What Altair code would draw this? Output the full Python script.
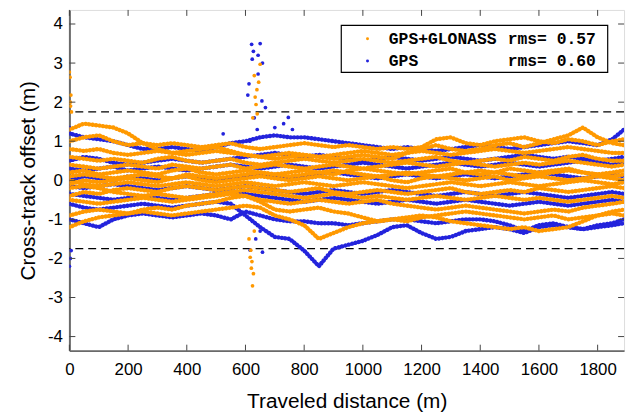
import altair as alt
import pandas as pd

# ---------------- data ----------------
DIST = [0, 50, 100, 150, 200, 250, 300, 350, 400, 450, 500, 550, 600, 650, 700,
        750, 800, 850, 900, 950, 1000, 1050, 1100, 1150, 1200, 1250, 1300, 1350,
        1400, 1450, 1500, 1550, 1600, 1650, 1700, 1750, 1800, 1850, 1890]

# GPS+GLONASS cross-track offsets (m), one list per pass
GLO_TRACKS = [
    [1.3, 1.45, 1.4, 1.35, 1.2, 0.95, 0.8, 0.7, 0.75, 0.8, 0.85, 0.75, 0.65, 0.6, 0.55, 0.6, 0.65, 0.6, 0.55, 0.6,
     0.65, 0.6, 0.55, 0.7, 0.8, 0.9, 0.8, 0.75, 0.8, 0.9, 0.95, 0.85, 0.95, 1.05, 1.15, 1.35, 1.1, 0.95, 0.9],
    [1.0, 1.1, 1.15, 1.0, 0.9, 0.95, 0.9, 0.95, 0.9, 0.85, 0.9, 0.95, 0.85, 0.8, 0.85, 0.9, 0.95, 0.9, 0.85, 0.9,
     0.85, 0.8, 0.85, 0.8, 0.85, 1.05, 1.1, 0.95, 0.9, 1.0, 1.05, 1.1, 1.0, 0.95, 1.05, 1.0, 0.9, 1.0, 1.05],
    [0.8, 0.75, 0.8, 0.7, 0.65, 0.7, 0.75, 0.7, 0.65, 0.7, 0.75, 0.7, 0.65, 0.6, 0.65, 0.7, 0.65, 0.6, 0.65, 0.7,
     0.75, 0.7, 0.65, 0.7, 0.75, 0.7, 0.65, 0.7, 0.75, 0.8, 0.75, 0.7, 0.75, 0.8, 0.85, 0.8, 0.75, 0.7, 0.7],
    [0.6, 0.55, 0.5, 0.55, 0.5, 0.45, 0.55, 0.6, 0.5, 0.45, 0.5, 0.55, 0.45, 0.4, 0.45, 0.5, 0.55, 0.5, 0.45, 0.5,
     0.55, 0.5, 0.45, 0.5, 0.55, 0.6, 0.5, 0.45, 0.5, 0.55, 0.5, 0.6, 0.55, 0.5, 0.6, 0.65, 0.55, 0.5, 0.5],
    [0.4, 0.35, 0.3, 0.35, 0.4, 0.35, 0.3, 0.4, 0.35, 0.3, 0.35, 0.4, 0.3, 0.35, 0.4, 0.35, 0.3, 0.35, 0.4, 0.35,
     0.3, 0.35, 0.4, 0.45, 0.4, 0.35, 0.4, 0.45, 0.4, 0.35, 0.4, 0.45, 0.4, 0.45, 0.5, 0.45, 0.4, 0.35, 0.4],
    [0.2, 0.25, 0.15, 0.2, 0.25, 0.2, 0.15, 0.25, 0.3, 0.2, 0.15, 0.2, 0.25, 0.2, 0.15, 0.2, 0.25, 0.2, 0.15, 0.25,
     0.3, 0.25, 0.2, 0.15, 0.2, 0.25, 0.3, 0.2, 0.15, 0.2, 0.3, 0.25, 0.2, 0.25, 0.3, 0.2, 0.15, 0.2, 0.25],
    [0.1, 0.15, 0.1, 0.05, 0.1, 0.15, 0.1, 0.05, 0.15, 0.1, 0.05, 0.1, 0.15, 0.2, 0.15, 0.1, 0.15, 0.2, 0.25, 0.2,
     0.15, 0.1, 0.15, 0.2, 0.15, 0.1, 0.15, 0.2, 0.25, 0.2, 0.15, 0.1, 0.15, 0.2, 0.25, 0.2, 0.15, 0.1, 0.15],
    [-0.1, 0.0, -0.05, 0.0, 0.05, 0.0, -0.05, 0.05, 0.1, 0.0, -0.05, 0.0, 0.05, 0.1, 0.05, 0.0, 0.05, 0.1, 0.05, 0.0,
     0.05, 0.1, 0.0, -0.05, 0.05, 0.1, 0.05, 0.0, 0.05, 0.1, 0.0, 0.05, 0.1, 0.05, 0.0, 0.05, 0.1, 0.05, 0.0],
    [0.0, -0.1, -0.15, -0.1, -0.05, -0.1, -0.15, -0.1, -0.05, -0.1, -0.15, -0.1, -0.05, -0.1, -0.15, -0.1, -0.05,
     -0.1, -0.15, -0.1, -0.05, -0.1, -0.15, -0.2, -0.15, -0.1, -0.05, -0.1, -0.15, -0.1, -0.05, -0.1, -0.15, -0.1,
     -0.05, 0.0, -0.05, -0.1, -0.05],
    [-0.4, -0.3, -0.35, -0.25, -0.2, -0.25, -0.3, -0.2, -0.15, -0.2, -0.25, -0.2, -0.15, -0.2, -0.25, -0.3, -0.25,
     -0.2, -0.3, -0.35, -0.3, -0.25, -0.3, -0.35, -0.3, -0.25, -0.2, -0.3, -0.35, -0.3, -0.25, -0.3, -0.2, -0.25,
     -0.3, -0.25, -0.2, -0.15, -0.2],
    [-0.2, -0.15, -0.2, -0.3, -0.35, -0.4, -0.35, -0.4, -0.45, -0.4, -0.35, -0.3, -0.25, -0.3, -0.35, -0.4, -0.45,
     -0.4, -0.35, -0.4, -0.45, -0.4, -0.45, -0.5, -0.45, -0.4, -0.45, -0.5, -0.45, -0.4, -0.45, -0.5, -0.45, -0.5,
     -0.55, -0.5, -0.45, -0.4, -0.45],
    [-0.9, -0.8, -0.75, -0.8, -0.85, -0.75, -0.7, -0.75, -0.65, -0.6, -0.55, -0.45, -0.4, -0.5, -0.55, -0.6, -0.55,
     -0.5, -0.55, -0.6, -0.55, -0.5, -0.6, -0.65, -0.7, -0.75, -0.7, -0.65, -0.7, -0.75, -0.8, -0.85, -0.8, -0.75,
     -0.8, -0.7, -0.65, -0.6, -0.55],
    [-1.2, -1.05, -0.95, -0.9, -0.85, -0.8, -0.85, -0.9, -0.85, -0.8, -0.75, -0.7, -0.65, -0.7, -0.9, -1.0, -1.15,
     -1.5, -1.35, -1.2, -1.1, -1.05, -1.0, -1.05, -0.95, -0.9, -0.85, -0.8, -0.85, -0.9, -0.95, -1.0, -0.95, -0.9,
     -1.0, -0.95, -0.9, -0.85, -0.9],
    [-0.5, -0.55, -0.6, -0.55, -0.5, -0.45, -0.5, -0.55, -0.5, -0.45, -0.4, -0.35, -0.4, -0.55, -0.75, -0.8, -0.75,
     -0.7, -0.8, -0.85, -0.95, -1.05, -1.0, -0.95, -0.9, -0.95, -1.05, -1.1, -1.15, -1.2, -1.25, -1.2, -1.3, -1.25,
     -1.2, -1.05, -0.9, -0.8, -0.75],
]

# GPS-only cross-track offsets (m), one list per pass
GPS_TRACKS = [
    [1.2, 1.1, 1.05, 1.0, 0.9, 0.8, 0.8, 0.85, 0.8, 0.75, 0.85, 0.95, 1.0, 1.1, 1.15, 1.1, 1.1, 1.05, 1.0, 0.95,
     0.9, 0.85, 0.8, 0.85, 0.8, 0.75, 0.8, 0.85, 0.9, 0.85, 0.8, 0.85, 0.9, 0.95, 1.0, 0.95, 0.9, 1.05, 1.3],
    [0.5, 0.6, 0.55, 0.45, 0.4, 0.45, 0.5, 0.55, 0.5, 0.45, 0.5, 0.55, 0.6, 0.65, 0.7, 0.65, 0.6, 0.65, 0.6, 0.55,
     0.5, 0.55, 0.6, 0.55, 0.5, 0.55, 0.6, 0.55, 0.5, 0.55, 0.6, 0.65, 0.6, 0.55, 0.6, 0.55, 0.5, 0.55, 0.6],
    [0.3, 0.25, 0.3, 0.35, 0.25, 0.3, 0.35, 0.3, 0.25, 0.3, 0.35, 0.4, 0.35, 0.3, 0.35, 0.4, 0.35, 0.3, 0.35, 0.4,
     0.45, 0.4, 0.35, 0.3, 0.35, 0.4, 0.45, 0.4, 0.35, 0.4, 0.45, 0.4, 0.35, 0.4, 0.45, 0.5, 0.45, 0.4, 0.45],
    [0.0, 0.1, 0.05, 0.0, 0.1, 0.05, 0.0, 0.05, 0.1, 0.05, 0.0, 0.05, 0.1, 0.15, 0.1, 0.05, 0.1, 0.15, 0.2, 0.15,
     0.1, 0.05, 0.1, 0.15, 0.1, 0.05, 0.1, 0.15, 0.1, 0.05, 0.1, 0.15, 0.2, 0.15, 0.1, 0.05, 0.1, 0.15, 0.1],
    [-0.15, -0.2, -0.15, -0.1, -0.15, -0.2, -0.25, -0.2, -0.15, -0.2, -0.25, -0.2, -0.15, -0.2, -0.25, -0.3, -0.35,
     -0.3, -0.25, -0.3, -0.35, -0.3, -0.25, -0.3, -0.35, -0.4, -0.35, -0.3, -0.35, -0.4, -0.35, -0.3, -0.35, -0.4,
     -0.45, -0.4, -0.35, -0.3, -0.35],
    [-0.35, -0.4, -0.45, -0.5, -0.45, -0.4, -0.45, -0.5, -0.45, -0.4, -0.35, -0.3, -0.35, -0.4, -0.45, -0.5, -0.55,
     -0.5, -0.45, -0.5, -0.55, -0.6, -0.55, -0.5, -0.55, -0.6, -0.55, -0.5, -0.55, -0.6, -0.65, -0.6, -0.55, -0.6,
     -0.65, -0.6, -0.55, -0.5, -0.55],
    [-1.0, -1.1, -1.2, -1.0, -0.9, -0.85, -0.9, -0.95, -0.9, -0.85, -0.9, -1.0, -0.8, -0.9, -1.0, -1.05, -1.05,
     -1.1, -1.1, -1.15, -1.1, -1.05, -1.0, -1.0, -1.05, -1.1, -1.05, -1.0, -1.0, -1.05, -1.15, -1.3, -1.15, -1.1,
     -1.2, -1.25, -1.15, -1.1, -1.0],
    [-0.6, -0.7, -0.75, -0.7, -0.65, -0.6, -0.65, -0.7, -0.65, -0.6, -0.55, -0.6, -0.9, -1.2, -1.45, -1.5, -1.8,
     -2.2, -1.75, -1.65, -1.55, -1.4, -1.2, -1.15, -1.35, -1.5, -1.45, -1.3, -1.25, -1.2, -1.25, -1.35, -1.2, -1.15,
     -1.2, -1.25, -1.2, -1.15, -1.1],
]

# isolated outliers (distance m, offset m)
GPS_OUT_X = [621, 650, 627, 643, 623, 658, 643, 612, 608, 656, 668, 746, 524, 616, 658, 630, 640, 615, 650, 635,
             700, 730, 760, 0, 3, 6, 0, 3]
GPS_OUT_Y = [3.48, 3.5, 3.3, 3.2, 3.1, 3.0, 2.72, 2.47, 2.18, 2.03, 1.86, 1.61, 1.19, -1.79, -1.84, 1.6, 1.3, 1.0,
             -1.3, -1.5, 1.35, 1.45, 1.3, -2.2, -2.0, -1.8, 1.35, 1.2]
GLO_OUT_X = [650, 630, 645, 639, 633, 636, 625, 640, 618, 616, 622, 620, 627, 624, 612, 630, 0, 2, 5, 3, 7, 4]
GLO_OUT_Y = [2.97, 2.68, 2.51, 2.32, 2.13, 1.94, 1.6, 1.7, -1.79, -1.97, -2.08, -2.25, -2.39, -2.7, -1.5, -1.3,
             2.77, 2.64, 2.18, 2.0, 1.75, 1.9]

LIMITS = [1.75, -1.75]
X_TICKS = [0, 200, 400, 600, 800, 1000, 1200, 1400, 1600, 1800]
Y_TICKS = [-4, -3, -2, -1, 0, 1, 2, 3, 4]

SERIES = ["GPS+GLONASS", "GPS"]
RMS = ["0.57", "0.60"]
ORANGE = "#FF9900"
BLUE = "#2323DC"
COLORS = [ORANGE, BLUE]

# ---------------- layout ----------------
W, H = 560, 344
FONT = "Liberation Sans"
MONO = "Liberation Mono"

xscale = alt.Scale(domain=[0, 1890], nice=False, zero=False)
yscale = alt.Scale(domain=[-4.36, 4.36], nice=False, zero=False)
xaxis = alt.Axis(values=X_TICKS, format="d", title="Traveled distance (m)", grid=False, ticks=False, tickSize=0,
                 labelPadding=11, labelFontSize=17, titleFontSize=21, titleFontWeight="normal",
                 labelFont=FONT, titleFont=FONT, domainColor="#6a6a6a", domainWidth=2,
                 labelColor="black", titleColor="black", titlePadding=13, labelFlush=False)
yaxis = alt.Axis(values=Y_TICKS, labelExpr="datum.value < 0 ? '-' + abs(datum.value) : '' + datum.value",
                 title="Cross-track offset (m)", grid=False, ticks=False, tickSize=0,
                 labelPadding=7, labelFontSize=17, titleFontSize=21, titleFontWeight="normal",
                 labelFont=FONT, titleFont=FONT, domainColor="#6a6a6a", domainWidth=2,
                 labelColor="black", titleColor="black", titlePadding=9, labelFlush=False)


def X(f="x"):
    return alt.X(f, type="quantitative", scale=xscale, axis=xaxis)


def Y(f="y"):
    return alt.Y(f, type="quantitative", scale=yscale, axis=yaxis)


def tracks_df(tracks):
    rows = []
    for i, t in enumerate(tracks):
        for d, v in zip(DIST, t):
            rows.append({"x": d, "y": v, "track": i})
    return pd.DataFrame(rows)


def line_layer(tracks, color):
    return alt.Chart(tracks_df(tracks)).mark_line(
        color=color, strokeWidth=4.4, strokeDash=[0.1, 3.4], strokeCap="round", clip=True
    ).encode(x=X(), y=Y(), detail="track:N")


def point_layer(xs, ys, color):
    return alt.Chart(pd.DataFrame({"x": xs, "y": ys})).mark_circle(
        color=color, size=14, opacity=1, clip=True
    ).encode(x=X(), y=Y())


dashed = alt.Chart(pd.DataFrame({"y": LIMITS})).mark_rule(
    color="black", strokeDash=[8, 5], strokeWidth=1.4
).encode(y=Y())

xt = pd.DataFrame({"x": X_TICKS})
yt = pd.DataFrame({"y": Y_TICKS})
tick_layers = [
    alt.Chart(xt).mark_rule(color="#444", strokeWidth=1).encode(x=X(), y=alt.value(H), y2=alt.value(H - 6)),
    alt.Chart(xt).mark_rule(color="#444", strokeWidth=1).encode(x=X(), y=alt.value(0), y2=alt.value(6)),
    alt.Chart(yt).mark_rule(color="#444", strokeWidth=1).encode(y=Y(), x=alt.value(0), x2=alt.value(6)),
    alt.Chart(yt).mark_rule(color="#444", strokeWidth=1).encode(y=Y(), x=alt.value(W), x2=alt.value(W - 6)),
]

# legend box
LX0, LX1, LY0, LY1 = 274.5, 543.5, 15.5, 63
box = alt.Chart(pd.DataFrame({"k": [0]})).mark_rect(
    fill="white", stroke="black", strokeWidth=1.2
).encode(x=alt.value(LX0), x2=alt.value(LX1), y=alt.value(LY0), y2=alt.value(LY1))

legend_layers = []
for i, (name, rms, col) in enumerate(zip(SERIES, RMS, COLORS)):
    ypos = 29 + i * 22.6
    d = pd.DataFrame({"name": [name], "rms": ["rms= " + rms]})
    legend_layers.append(alt.Chart(d).mark_circle(color=col, size=9, opacity=1).encode(
        x=alt.value(301), y=alt.value(ypos)))
    legend_layers.append(alt.Chart(d).mark_text(
        font=MONO, fontWeight="bold", fontSize=16.5, align="left", baseline="middle", color="black"
    ).encode(x=alt.value(322.5), y=alt.value(ypos), text="name:N"))
    legend_layers.append(alt.Chart(d).mark_text(
        font=MONO, fontWeight="bold", fontSize=16.5, align="left", baseline="middle", color="black"
    ).encode(x=alt.value(442.5), y=alt.value(ypos), text="rms:N"))

chart = alt.layer(
    dashed,
    line_layer(GPS_TRACKS, BLUE),
    point_layer(GPS_OUT_X, GPS_OUT_Y, BLUE),
    line_layer(GLO_TRACKS, ORANGE),
    point_layer(GLO_OUT_X, GLO_OUT_Y, ORANGE),
    *tick_layers,
    box,
    *legend_layers,
).properties(
    width=W, height=H,
    autosize=alt.AutoSizeParams(type="none"),
    padding={"left": 62, "top": 0, "right": 4, "bottom": 60},
).configure_view(stroke="black", strokeWidth=1.2).configure(background="white")

chart.save("out.html", embed_options={"renderer": "svg", "actions": False})
